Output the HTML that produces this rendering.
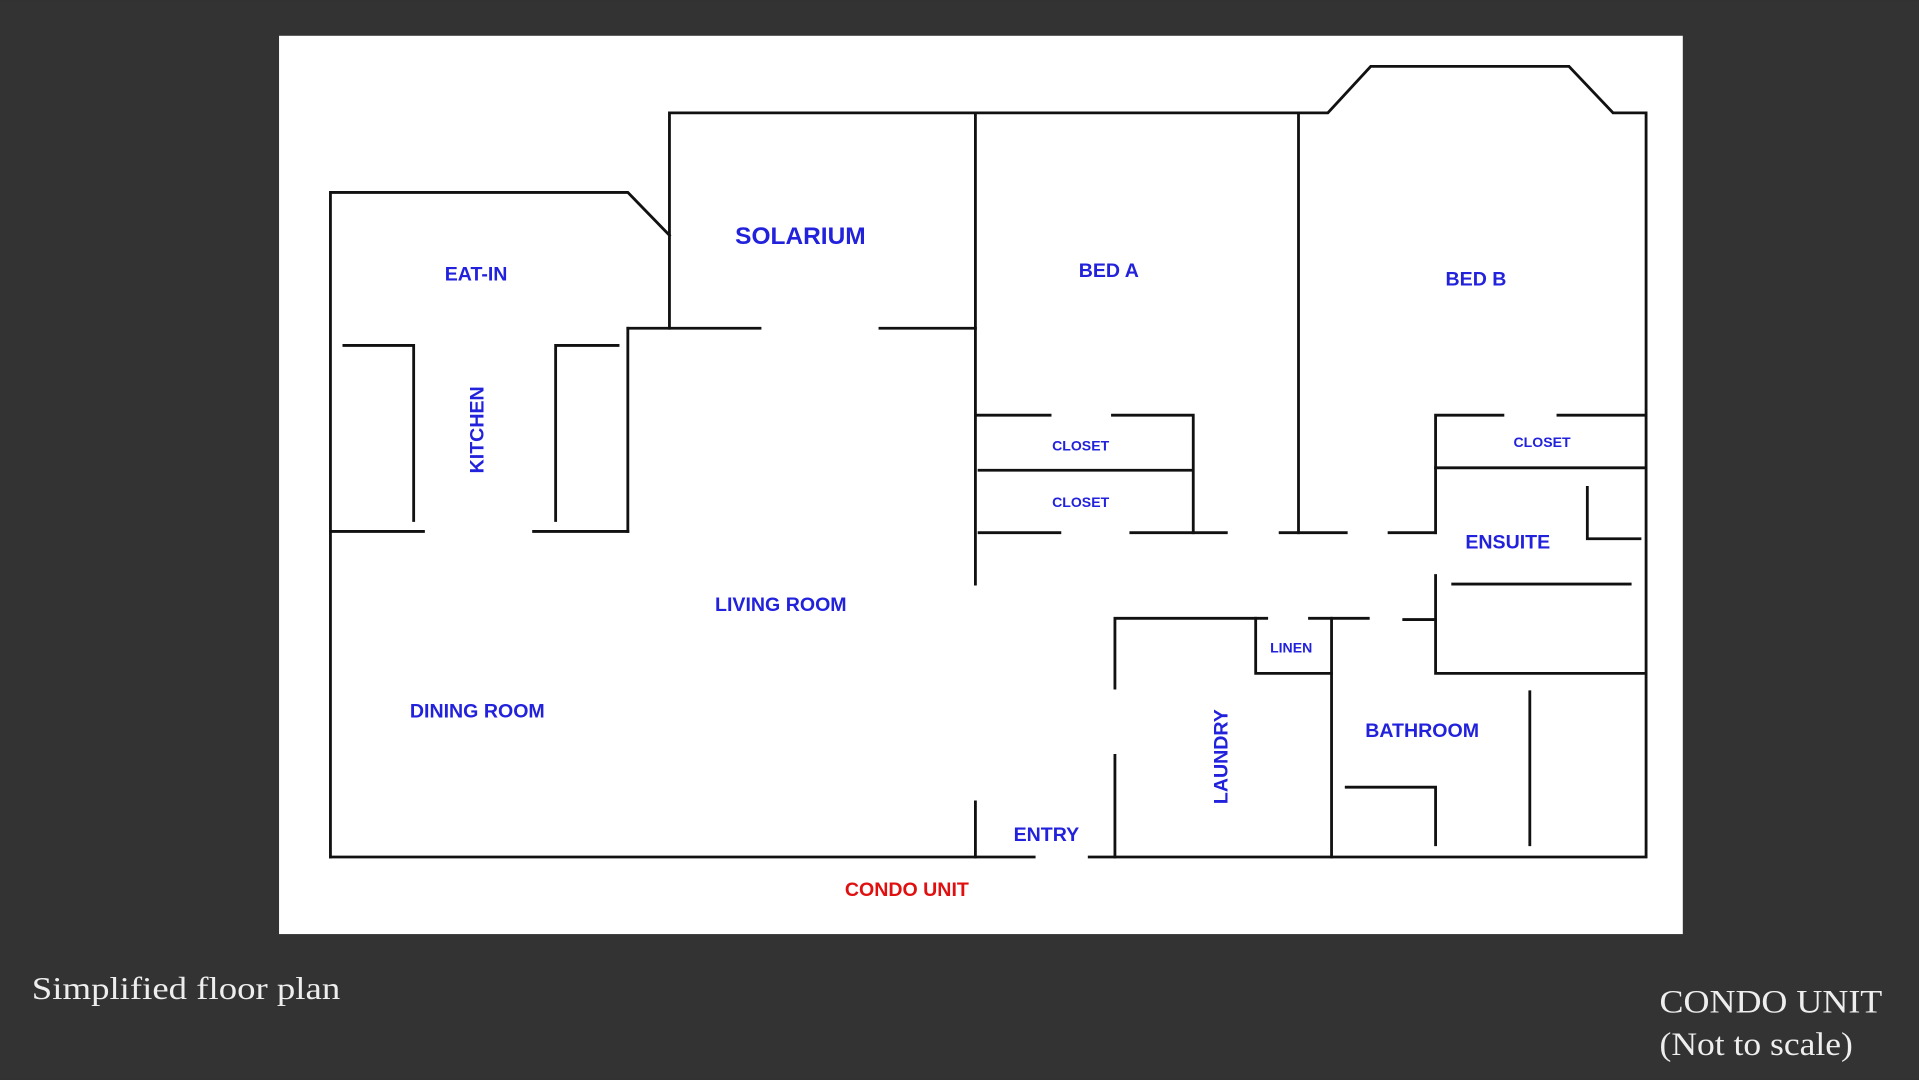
<!DOCTYPE html>
<html><head><meta charset="utf-8"><style>
html,body{margin:0;padding:0;background:#333;}
svg{display:block;}
</style></head><body>
<svg width="1919" height="1080" viewBox="0 0 1568 882" xmlns="http://www.w3.org/2000/svg">
<rect x="0" y="0" width="1568" height="882" fill="#333"/>
<rect x="228" y="29" width="1147" height="734" fill="#fff"/>
<g stroke="#111" stroke-width="2.3" fill="none" stroke-linecap="square">
<polyline points="270,700 270,157 513,157 547,192"/>
<polyline points="547,268 547,92 1085,92 1120,54 1282,54 1318,92 1345,92 1345,700 890,700"/>
<line x1="270" y1="700" x2="845" y2="700"/>
<line x1="513" y1="268" x2="621" y2="268"/>
<line x1="719" y1="268" x2="797" y2="268"/>
<line x1="513" y1="268" x2="513" y2="434"/>
<line x1="797" y1="92" x2="797" y2="477"/>
<line x1="797" y1="655" x2="797" y2="700"/>
<polyline points="281,282 338,282 338,425"/>
<polyline points="505,282 454,282 454,425"/>
<line x1="270" y1="434" x2="346" y2="434"/>
<line x1="436" y1="434" x2="513" y2="434"/>
<line x1="797" y1="339" x2="858" y2="339"/>
<polyline points="909,339 975,339 975,435"/>
<line x1="800" y1="384" x2="973" y2="384"/>
<line x1="800" y1="435" x2="866" y2="435"/>
<line x1="924" y1="435" x2="1002" y2="435"/>
<line x1="1061" y1="92" x2="1061" y2="435"/>
<line x1="1046" y1="435" x2="1100" y2="435"/>
<line x1="1135" y1="435" x2="1173" y2="435"/>
<polyline points="1173,435 1173,339 1228,339"/>
<line x1="1273" y1="339" x2="1345" y2="339"/>
<line x1="1173" y1="382" x2="1345" y2="382"/>
<polyline points="1297,398 1297,440 1340,440"/>
<line x1="1187" y1="477" x2="1332" y2="477"/>
<polyline points="1173,470 1173,550 1345,550"/>
<line x1="1147" y1="506" x2="1173" y2="506"/>
<polyline points="911,562 911,505 1035,505"/>
<line x1="911" y1="617" x2="911" y2="700"/>
<polyline points="1026,505 1026,550 1088,550"/>
<line x1="1070" y1="505" x2="1118" y2="505"/>
<line x1="1088" y1="505" x2="1088" y2="700"/>
<polyline points="1100,643 1173,643 1173,690"/>
<line x1="1250" y1="565" x2="1250" y2="690"/>
</g>
<g font-family="Liberation Sans, sans-serif" font-weight="bold" fill="#2222dd" text-anchor="middle">
<text x="654" y="199" font-size="20">SOLARIUM</text>
<text x="389" y="229" font-size="16">EAT-IN</text>
<text x="906" y="226" font-size="16">BED A</text>
<text x="1206" y="233" font-size="16">BED B</text>
<text x="883" y="368" font-size="11.5">CLOSET</text>
<text x="883" y="414" font-size="11.5">CLOSET</text>
<text x="1260" y="365" font-size="11.5">CLOSET</text>
<text x="1232" y="448" font-size="16">ENSUITE</text>
<text x="638" y="499" font-size="16">LIVING ROOM</text>
<text x="390" y="586" font-size="16">DINING ROOM</text>
<text x="1055" y="533" font-size="11.5">LINEN</text>
<text x="1162" y="602" font-size="16">BATHROOM</text>
<text x="855" y="687" font-size="16">ENTRY</text>
<text transform="translate(395,351) rotate(-90)" font-size="16">KITCHEN</text>
<text transform="translate(1003,618) rotate(-90)" font-size="16">LAUNDRY</text>
<text x="741" y="732" font-size="16" fill="#e01010">CONDO UNIT</text>
</g>
<g font-family="Liberation Serif, serif" fill="#eee">
<text x="26" y="816" font-size="26" textLength="252" lengthAdjust="spacingAndGlyphs">Simplified floor plan</text>
<text x="1356" y="827" font-size="27" textLength="182" lengthAdjust="spacingAndGlyphs">CONDO UNIT</text>
<text x="1356" y="862" font-size="27" textLength="158" lengthAdjust="spacingAndGlyphs">(Not to scale)</text>
</g>
</svg>
</body></html>
